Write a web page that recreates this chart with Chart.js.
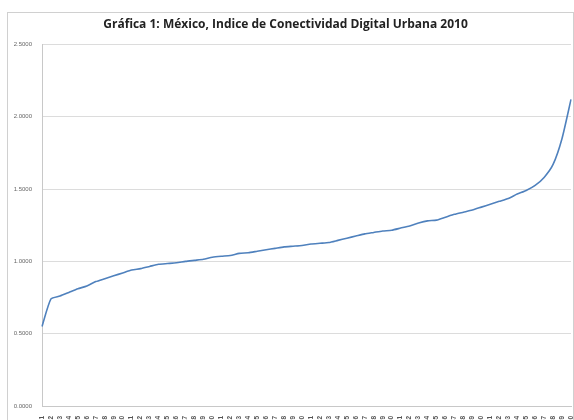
<!DOCTYPE html>
<html>
<head>
<meta charset="utf-8">
<script src="https://cdn.jsdelivr.net/npm/chart.js@4"></script>
<style>
  body { margin: 0; background: #fff; }
  #marco { position: absolute; left: 7px; top: 12px; width: 565px; height: 420px; border: 1px solid #d0d0d0; }
  #lienzo { position: absolute; left: 0; top: 0; }
</style>
</head>
<body>
<div id="marco"></div>
<canvas id="lienzo" width="574" height="420"></canvas>
<script>
// valores (indice ordenado de menor a mayor)
const indice = [
    0.55, 0.74, 0.76, 0.785, 0.81, 0.83, 0.86, 0.88, 0.90, 0.92,
    0.94, 0.95, 0.965, 0.98, 0.985, 0.99, 1.00, 1.007, 1.014, 1.028,
    1.035, 1.04, 1.055, 1.06, 1.07, 1.08, 1.09, 1.10, 1.105, 1.11,
    1.12, 1.125, 1.13, 1.145, 1.16, 1.175, 1.19, 1.20, 1.21, 1.215,
    1.23, 1.245, 1.265, 1.28, 1.285, 1.305, 1.325, 1.34, 1.355, 1.375,
    1.395, 1.415, 1.435, 1.465, 1.49, 1.525, 1.58, 1.67, 1.85, 2.12
];
const ciudades = indice.map((v, i) => String(i + 1).padStart(2, '0'));
const marcasY = [0, 0.5, 1.0, 1.5, 2.0, 2.5];

let config = {
    type: 'line',
    data: {
        labels: ciudades,
        datasets: [{
            data: indice,
            borderColor: '#4f81bd',
            borderWidth: 1.6,
            pointRadius: 0,
            tension: 0.2,
            fill: false
        }]
    },
    options: {
        responsive: false,
        animation: false,
        layout: { padding: { left: 0, right: 3, bottom: 0 } },
        plugins: {
            legend: { display: false },
            tooltip: { enabled: false },
            title: {
                display: true,
                text: 'Gráfica 1: México, Indice de Conectividad Digital Urbana 2010',
                color: '#222',
                font: { family: 'Open Sans', size: 12, weight: 'bold' },
                padding: { top: 17, bottom: 13 }
            }
        },
        scales: {
            x: {
                offset: false,
                grid: { display: false },
                border: { color: '#c8c8c8' },
                ticks: {
                    autoSkip: false,
                    maxRotation: 90,
                    minRotation: 90,
                    color: '#555',
                    padding: 2,
                    font: { family: 'Liberation Sans', size: 6.5, weight: 'bold' }
                },
                afterFit: (escala) => {
                    escala.height = 14;
                    escala.paddingRight = 0;
                    escala.paddingLeft = 0;
                }
            },
            y: {
                min: 0,
                max: 2.5,
                afterBuildTicks: (escala) => { escala.ticks = marcasY.map(v => ({ value: v })); },
                grid: { color: '#dcdcdc', drawTicks: false },
                border: { color: '#c8c8c8' },
                ticks: {
                    color: '#666',
                    padding: 10,
                    font: { family: 'Liberation Sans', size: 6 },
                    callback: (v) => Number(v).toFixed(4)
                },
                afterFit: (escala) => { escala.width = 42; }
            }
        }
    }
};

let ctx = document.getElementById('lienzo').getContext('2d');
window.grafica = new Chart(ctx, config);
</script>
</body>
</html>
